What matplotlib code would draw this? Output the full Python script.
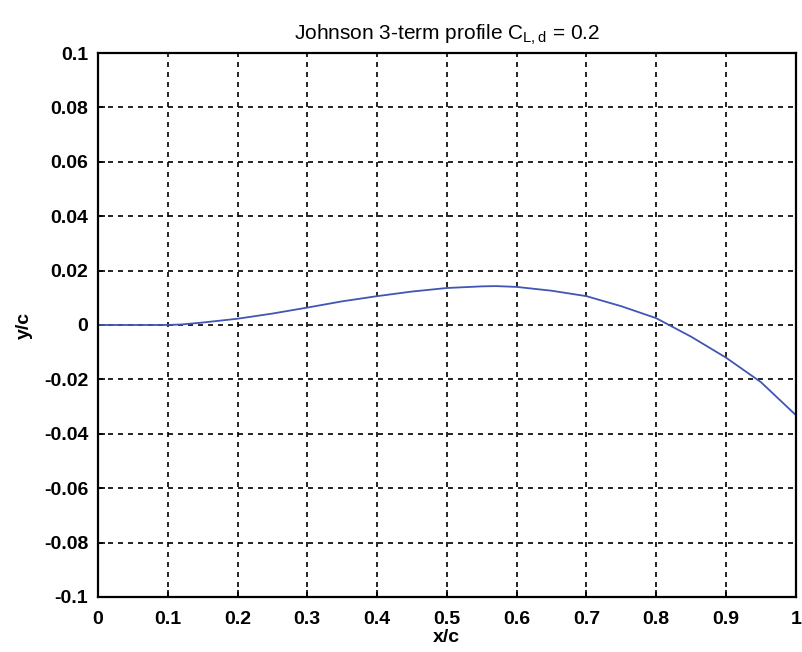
import numpy as np
import matplotlib.pyplot as plt

# mean line of the Johnson 3-term profile, read at these chord stations
x_c = [0.0, 0.05, 0.10, 0.12, 0.15, 0.20, 0.25, 0.30, 0.35, 0.40, 0.45, 0.50,
       0.55, 0.57, 0.60, 0.65, 0.70, 0.75, 0.80, 0.85, 0.90, 0.95, 1.00]
y_c = [0.0, 0.0, 0.0, 0.0002, 0.0009, 0.0023, 0.0042, 0.0064, 0.0087, 0.0106,
       0.0123, 0.0136, 0.0142, 0.0143, 0.0140, 0.0126, 0.0106, 0.0069, 0.0025,
       -0.0043, -0.0120, -0.0210, -0.0331]

xticks = np.round(np.arange(0, 1.01, 0.1), 1)
yticks = np.round(np.arange(-0.1, 0.101, 0.02), 2)
xtick_labels = ['0', '0.1', '0.2', '0.3', '0.4', '0.5', '0.6', '0.7', '0.8', '0.9', '1']
ytick_labels = ['-0.1', '-0.08', '-0.06', '-0.04', '-0.02', '0',
                '0.02', '0.04', '0.06', '0.08', '0.1']

plt.rcParams['font.family'] = ['Liberation Sans', 'DejaVu Sans']
plt.rcParams['mathtext.fontset'] = 'custom'
plt.rcParams['mathtext.rm'] = 'Liberation Sans'

fig = plt.figure(figsize=(8.03, 6.52), dpi=100)
ax = fig.add_axes([0.122, 0.0844, 0.869, 0.8343])

ax.plot(x_c, y_c, color='#4155b4', lw=1.3)

ax.set_xlim(0, 1)
ax.set_ylim(-0.1, 0.1)
ax.set_xticks(xticks)
ax.set_xticklabels(xtick_labels)
ax.set_yticks(yticks)
ax.set_yticklabels(ytick_labels)
ax.tick_params(direction='in', length=5, width=1.2, labelsize=14, pad=7)
ax.tick_params(axis='x', pad=10)
for lab in ax.get_xticklabels() + ax.get_yticklabels():
    lab.set_fontweight('bold')

ax.grid(True, color='black', linestyle=(0, (3, 3)), linewidth=1.2)
for s in ax.spines.values():
    s.set_linewidth(1.6)

ax.set_xlabel('x/c', fontsize=14, fontweight='bold', labelpad=1)
ax.set_ylabel('y/c', fontsize=14, fontweight='bold', labelpad=8)
ax.set_title(r'Johnson 3-term profile C$_{\mathrm{L,d}}$ = 0.2', fontsize=15, pad=10)

fig.savefig('out.png', dpi=100)
